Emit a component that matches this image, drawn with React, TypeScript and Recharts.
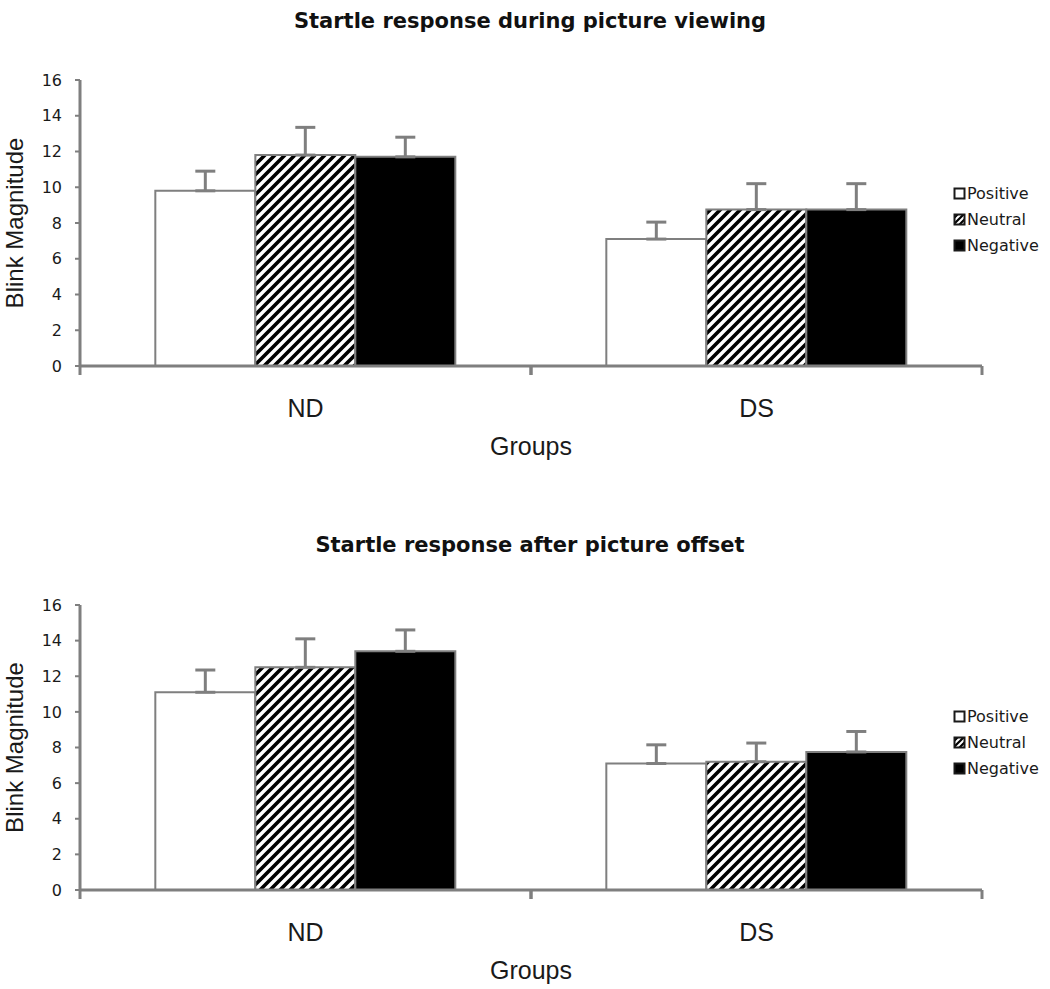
import React from "react";
import {
  BarChart,
  Bar,
  XAxis,
  YAxis,
  Legend,
  ErrorBar,
} from "recharts";

const groups = ["ND", "DS"];
const yTicks = [0, 2, 4, 6, 8, 10, 12, 14, 16];
const seriesNames = ["Positive", "Neutral", "Negative"];

// startle response during picture viewing
const viewingPositive = [9.8, 7.1];
const viewingNeutral = [11.8, 8.75];
const viewingNegative = [11.7, 8.75];
const viewingPositiveErr = [1.1, 0.95];
const viewingNeutralErr = [1.55, 1.45];
const viewingNegativeErr = [1.1, 1.45];

// startle response after picture offset
const offsetPositive = [11.1, 7.1];
const offsetNeutral = [12.5, 7.2];
const offsetNegative = [13.4, 7.75];
const offsetPositiveErr = [1.25, 1.05];
const offsetNeutralErr = [1.6, 1.05];
const offsetNegativeErr = [1.2, 1.15];

const buildRows = (
  pos: number[],
  neu: number[],
  neg: number[],
  posErr: number[],
  neuErr: number[],
  negErr: number[]
) =>
  groups.map((g, i) => ({
    group: g,
    positive: pos[i],
    neutral: neu[i],
    negative: neg[i],
    positiveErr: [0, posErr[i]],
    neutralErr: [0, neuErr[i]],
    negativeErr: [0, negErr[i]],
  }));

const viewingRows = buildRows(
  viewingPositive,
  viewingNeutral,
  viewingNegative,
  viewingPositiveErr,
  viewingNeutralErr,
  viewingNegativeErr
);
const offsetRows = buildRows(
  offsetPositive,
  offsetNeutral,
  offsetNegative,
  offsetPositiveErr,
  offsetNeutralErr,
  offsetNegativeErr
);

const GRAY = "#7f7f7f";
const CHART_W = 1050;
const Y_AXIS_W = 80;
const RIGHT = 68;
const HALF_BAND = (CHART_W - Y_AXIS_W - RIGHT) / groups.length / 2;
const SANS = "'Liberation Sans', Arial, sans-serif";
const VERDANA = "'DejaVu Sans', Verdana, sans-serif";

const GroupTick = (props: any) => {
  const { x, y, payload } = props;
  return (
    <g>
      <line x1={x - HALF_BAND} x2={x - HALF_BAND} y1={y} y2={y + 9} stroke={GRAY} strokeWidth={3} />
      <line x1={x + HALF_BAND} x2={x + HALF_BAND} y1={y} y2={y + 9} stroke={GRAY} strokeWidth={3} />
      <text x={x} y={y + 51} textAnchor="middle" fontFamily={SANS} fontSize={25} fill="#1a1a1a">
        {payload.value}
      </text>
    </g>
  );
};

const LegendBox = ({ patternId }: { patternId: string }) => {
  const fills = ["#ffffff", `url(#${patternId}-small)`, "#000000"];
  return (
    <div style={{ fontFamily: VERDANA, fontSize: 16, color: "#1a1a1a" }}>
      {seriesNames.map((name, i) => (
        <div key={name} style={{ display: "flex", alignItems: "center", height: 26 }}>
          <svg width={13} height={13} style={{ marginRight: 1 }}>
            <rect x={1.5} y={1.5} width={10} height={10} fill={fills[i]} stroke="#1a1a1a" strokeWidth={2} />
          </svg>
          <span>{name}</span>
        </div>
      ))}
    </div>
  );
};

const Panel = ({
  title,
  rows,
  top,
  height,
  marginTop,
  marginBottom,
  legendTop,
  titleTop,
  patternId,
}: {
  title: string;
  rows: any[];
  top: number;
  height: number;
  marginTop: number;
  marginBottom: number;
  legendTop: number;
  titleTop: number;
  patternId: string;
}) => {
  return (
    <div style={{ position: "absolute", left: 0, top, width: CHART_W, height }}>
      <div
        style={{
          position: "absolute",
          left: 0,
          width: 1060,
          top: titleTop,
          textAlign: "center",
          fontFamily: VERDANA,
          fontWeight: "bold",
          fontSize: 21,
          color: "#111",
        }}
      >
        {title}
      </div>
      <BarChart
        width={CHART_W}
        height={height}
        data={rows}
        margin={{ top: marginTop, right: RIGHT, left: 0, bottom: marginBottom }}
        barGap={0}
        barCategoryGap="16.7%"
      >
        <defs>
          <pattern id={patternId} patternUnits="userSpaceOnUse" width={10} height={10}>
            <rect width={10} height={10} fill="#fff" />
            <path d="M-2,2 l4,-4 M0,10 l10,-10 M8,12 l4,-4" stroke="#000" strokeWidth={3.6} />
          </pattern>
          <pattern id={`${patternId}-small`} patternUnits="userSpaceOnUse" width={6} height={6}>
            <rect width={6} height={6} fill="#fff" />
            <path d="M-1,1 l2,-2 M0,6 l6,-6 M5,7 l2,-2" stroke="#000" strokeWidth={2.2} />
          </pattern>
        </defs>
        <XAxis
          dataKey="group"
          height={80}
          axisLine={{ stroke: GRAY, strokeWidth: 3 }}
          tickLine={false}
          tickSize={0}
          tickMargin={0}
          tick={<GroupTick />}
          label={{
            content: (p: any) => {
              const vb = p.viewBox;
              return (
                <text
                  x={vb.x + vb.width / 2}
                  y={vb.y + 89}
                  textAnchor="middle"
                  fontFamily={SANS}
                  fontSize={25}
                  fill="#1a1a1a"
                >
                  Groups
                </text>
              );
            },
          }}
        />
        <YAxis
          width={Y_AXIS_W}
          domain={[0, 16]}
          ticks={yTicks}
          interval={0}
          axisLine={{ stroke: GRAY, strokeWidth: 3 }}
          tickLine={{ stroke: GRAY, strokeWidth: 2 }}
          tickSize={5}
          tickMargin={13}
          tick={{ fontFamily: VERDANA, fontSize: 16, fill: "#1a1a1a" }}
          label={{
            content: (p: any) => {
              const vb = p.viewBox;
              const cx = 14;
              const cy = vb.y + vb.height / 2;
              return (
                <text
                  x={cx}
                  y={cy}
                  textAnchor="middle"
                  dominantBaseline="central"
                  transform={`rotate(-90 ${cx} ${cy})`}
                  fontFamily={SANS}
                  fontSize={24}
                  fill="#1a1a1a"
                >
                  Blink Magnitude
                </text>
              );
            },
          }}
        />
        <Legend
          layout="vertical"
          align="center"
          verticalAlign="middle"
          wrapperStyle={{ left: 953, top: legendTop, width: 100 }}
          content={() => <LegendBox patternId={patternId} />}
        />
        <Bar dataKey="positive" name="Positive" fill="#ffffff" stroke={GRAY} strokeWidth={2} isAnimationActive={false}>
          <ErrorBar dataKey="positiveErr" direction="y" width={10} stroke={GRAY} strokeWidth={3} />
        </Bar>
        <Bar dataKey="neutral" name="Neutral" fill={`url(#${patternId})`} stroke={GRAY} strokeWidth={2} isAnimationActive={false}>
          <ErrorBar dataKey="neutralErr" direction="y" width={10} stroke={GRAY} strokeWidth={3} />
        </Bar>
        <Bar dataKey="negative" name="Negative" fill="#000000" stroke={GRAY} strokeWidth={2} isAnimationActive={false}>
          <ErrorBar dataKey="negativeErr" direction="y" width={10} stroke={GRAY} strokeWidth={3} />
        </Bar>
      </BarChart>
    </div>
  );
};

export default function App() {
  return (
    <div style={{ position: "absolute", left: 0, top: 0, width: 1050, height: 989, background: "#fff" }}>
      <Panel
        title="Startle response during picture viewing"
        rows={viewingRows}
        top={0}
        height={500}
        marginTop={80}
        marginBottom={54}
        legendTop={180}
        titleTop={9}
        patternId="hatchA"
      />
      <Panel
        title="Startle response after picture offset"
        rows={offsetRows}
        top={500}
        height={489}
        marginTop={105}
        marginBottom={19}
        legendTop={203}
        titleTop={33}
        patternId="hatchB"
      />
    </div>
  );
}
